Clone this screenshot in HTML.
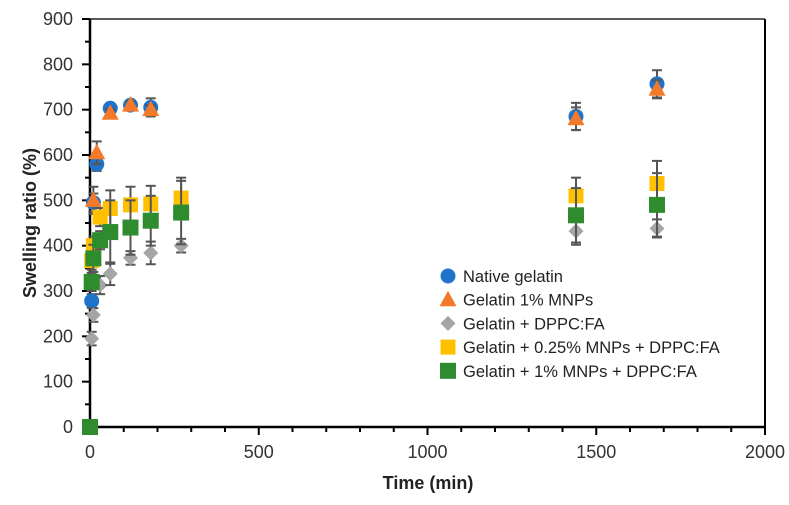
<!DOCTYPE html>
<html><head><meta charset="utf-8"><style>
body{margin:0;background:#fff;}
svg{display:block;font-family:"Liberation Sans",sans-serif;}
</style></head><body>
<svg id="chart" width="789" height="505">
<g id="axes"></g><g id="marks"></g><g id="legend"></g>
</svg>
<script>
const times = [0,5,10,20,30,60,120,180,270,1440,1680];
const native = [null,278,495,580,null,703,710,705,null,685,757];
const nativeErr = [0,15,20,15,0,8,8,20,0,30,30];
const mnp1 = [null,null,500,605,null,692,710,700,null,680,745];
const mnp1Err = [0,0,30,25,0,8,8,10,0,25,20];
const dppc = [null,195,247,null,313,338,373,384,400,432,438];
const dppcErr = [0,15,15,0,20,25,15,25,15,30,20];
const mnp025 = [null,367,400,null,463,482,490,492,505,510,537];
const mnp025Err = [0,20,20,0,20,40,40,40,45,40,50];
const mnp1dppc = [0,320,372,null,412,430,440,455,473,467,490];
const mnp1dppcErr = [0,20,30,0,20,70,60,55,70,60,70];
const xTicks = [0,500,1000,1500,2000];
const yTicks = [0,100,200,300,400,500,600,700,800,900];
const legendLabels = ["Native gelatin","Gelatin 1% MNPs","Gelatin + DPPC:FA","Gelatin + 0.25% MNPs + DPPC:FA","Gelatin + 1% MNPs + DPPC:FA"];

const X0=90,X1=765,Y0=427,Y1=19;
const xs=v=>X0+(v/2000)*(X1-X0);
const ys=v=>Y0-(v/900)*(Y0-Y1);
const NS="http://www.w3.org/2000/svg";
function mk(tag,attrs,parent,text){const e=document.createElementNS(NS,tag);for(const k in attrs)e.setAttribute(k,attrs[k]);if(text!==undefined)e.textContent=text;parent.appendChild(e);return e;}
const axes=document.getElementById('axes'),marks=document.getElementById('marks'),leg=document.getElementById('legend');

let l=mk('line',{x1:X0,y1:Y1,x2:X1,y2:Y1,stroke:'#222','stroke-width':1.5},axes);

l=mk('line',{x1:X1,y1:Y1,x2:X1,y2:Y0+6,stroke:'#000','stroke-width':2},axes);

l=mk('line',{x1:X0,y1:Y1,x2:X0,y2:Y0,stroke:'#000','stroke-width':2.5},axes);

l=mk('line',{x1:X0,y1:Y0,x2:X1,y2:Y0,stroke:'#000','stroke-width':2.5},axes);

for(let v=0;v<=900;v+=50){const y=ys(v);const major=v%100===0;
 l=mk('line',{x1:X0-(major?8:5),y1:y,x2:X0,y2:y,stroke:'#000','stroke-width':2},axes);
 }
yTicks.forEach(v=>{const t=mk('text',{x:73,y:ys(v)+6,'text-anchor':'end','font-size':18,fill:'#333'},axes,String(v));
 });
for(let v=0;v<=2000;v+=100){const x=xs(v);const major=v%500===0;
 l=mk('line',{x1:x,y1:Y0,x2:x,y2:Y0+(major?8:5),stroke:'#000','stroke-width':2},axes);
 }
xTicks.forEach(v=>{const t=mk('text',{x:xs(v),y:458,'text-anchor':'middle','font-size':18,fill:'#333'},axes,String(v));
 });
let t=mk('text',{x:428,y:489,'text-anchor':'middle','font-size':18,'font-weight':'bold',fill:'#222'},axes,'Time (min)');

t=mk('text',{x:0,y:0,transform:'translate(36,223) rotate(-90)','text-anchor':'middle','font-size':18,'font-weight':'bold',fill:'#222'},axes,'Swelling ratio (%)');


function marker(kind,x,y,parent){let e;
 if(kind==='circle')e=mk('circle',{cx:x,cy:y,r:7.5,fill:'#1f73c9'},parent);
 else if(kind==='tri')e=mk('polygon',{points:`${x},${y-9} ${x+8.5},${y+6.5} ${x-8.5},${y+6.5}`,fill:'#f47a2a'},parent);
 else if(kind==='diamond')e=mk('polygon',{points:`${x},${y-7.5} ${x+7.5},${y} ${x},${y+7.5} ${x-7.5},${y}`,fill:'#a5a5a5'},parent);
 else if(kind==='sqY')e=mk('rect',{x:x-7.5,y:y-7.5,width:15,height:15,fill:'#ffc000'},parent);
 else e=mk('rect',{x:x-8,y:y-8,width:16,height:16,fill:'#2e8b2e'},parent);
 return e;}
const series=[
 {vals:mnp1dppc,err:mnp1dppcErr,kind:'sqG',name:'gelatin-1pct-mnp-dppc'},
 {vals:dppc,err:dppcErr,kind:'diamond',name:'gelatin-dppc'},
 {vals:mnp025,err:mnp025Err,kind:'sqY',name:'gelatin-025pct-mnp-dppc'},
 {vals:native,err:nativeErr,kind:'circle',name:'native-gelatin'},
 {vals:mnp1,err:mnp1Err,kind:'tri',name:'gelatin-1pct-mnp'}];
const order=[3,4,1,2,0];
order.forEach(i=>{const s=series[i];const g=mk('g',{},marks);
 
 s.vals.forEach((v,j)=>{if(v===null)return;const x=xs(times[j]),e=s.err[j];
  if(e>0){const eg=mk('g',{stroke:'#555','stroke-width':2},g);
   
   mk('line',{x1:x,y1:ys(v-e),x2:x,y2:ys(v+e)},eg);
   mk('line',{x1:x-5,y1:ys(v-e),x2:x+5,y2:ys(v-e)},eg);
   mk('line',{x1:x-5,y1:ys(v+e),x2:x+5,y2:ys(v+e)},eg);}
  const m=marker(s.kind,x,ys(v),g);
  });});
const legKinds=['circle','tri','diamond','sqY','sqG'];
legendLabels.forEach((lab,i)=>{const y=276+i*23.7;const g=mk('g',{},leg);
 
 marker(legKinds[i],448,y,g);
 mk('text',{x:463,y:y+6,'font-size':16.5,fill:'#222'},g,lab);});
</script>
</body></html>
